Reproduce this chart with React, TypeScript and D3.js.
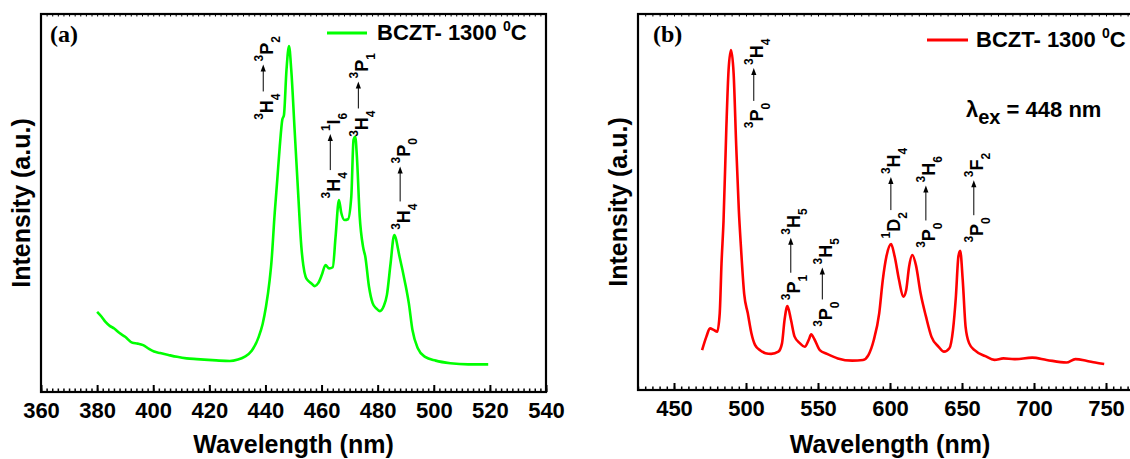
import { useEffect, useRef } from 'react';
import * as d3 from 'd3';

// ---- panel (a) : emission, green ----
const wlA = [380, 381.6, 382.9, 384.5, 386.1, 388, 390, 392.6, 394.5, 396.4, 398.5, 400.3, 402.5, 405.4, 408.5, 411.9, 415.5, 419.6, 423.5, 427.3, 430.2, 432.5, 435.1, 437.6, 439, 440.2, 441.5, 442.1, 443.3, 444.2, 445.1, 446, 446.6, 447.5, 448.4, 449.2, 450.4, 451.6, 452.8, 453.5, 454.3, 455, 456.3, 457.6, 458.8, 460.1, 461.4, 462.7, 464, 465, 466.2, 467, 468.2, 469.4, 470.6, 471.4, 472, 472.6, 473.6, 474.8, 475.6, 476.9, 478.2, 479.5, 480.8, 482.1, 483.3, 484.6, 485.9, 487.8, 489.8, 491.1, 492.4, 494.3, 496.9, 500.7, 505.9, 512.3, 519.4];
const intA = [21.2, 19.9, 18.6, 17.5, 16.8, 15.6, 14.6, 13.0, 12.8, 12.4, 11.4, 10.7, 10.3, 9.8, 9.3, 8.9, 8.7, 8.5, 8.3, 8.2, 8.6, 9.3, 10.9, 14.6, 18, 22.6, 29.6, 34.0, 47.3, 56, 64.9, 72, 73.3, 85.2, 91.5, 85.2, 69.3, 53.4, 38.4, 33.5, 30.5, 29.6, 28.8, 28.0, 28.8, 31.0, 33.6, 32.7, 33.0, 41.1, 50.8, 47.5, 45.5, 45.7, 51.7, 66.7, 67.5, 62.2, 46.4, 38.4, 35.8, 27.9, 23.5, 22.1, 21.4, 22.6, 25.7, 34.0, 41.5, 35.8, 28.8, 23.5, 16.4, 11.6, 9.3, 8.3, 7.6, 7.3, 7.3];
const ticksA = [360, 380, 400, 420, 440, 460, 480, 500, 520, 540];
const transA = [
  { wl: 442.6, v: 72, lower: '3H4', upper: '3P2', len: 27 },
  { wl: 466.5, v: 51.2, lower: '3H4', upper: '1I6', len: 36 },
  { wl: 476.5, v: 67.5, lower: '3H4', upper: '3P1', len: 27 },
  { wl: 491.4, v: 42.9, lower: '3H4', upper: '3P0', len: 35 },
];

// ---- panel (b) : emission, red ----
const wlB = [469.5, 472.5, 475, 477.5, 480, 481.75, 483, 484.4, 486.3, 487.9, 489.6, 491.4, 493.2, 495, 496.5, 498.75, 501.25, 503.75, 506.25, 510, 513.5, 517.5, 522.5, 525, 526.75, 528.75, 531.25, 533.75, 537.5, 540.75, 543.75, 545.25, 547.5, 551.25, 556.25, 563.75, 573.75, 581.25, 585, 588.75, 592.5, 595, 597.5, 600.75, 603.25, 606.25, 609.25, 611.25, 613.25, 615.5, 618, 621.25, 625, 628.75, 633.75, 637.5, 641.25, 643.75, 645.75, 647.5, 648.75, 650.5, 652.5, 655, 658.75, 666.25, 672.5, 678.75, 686.25, 698.75, 708.75, 722.5, 728.75, 736.25, 742.5, 748.75];
const intB = [10.6, 14.2, 16.4, 16.0, 15.5, 20.4, 33.7, 45, 69.1, 85.1, 90.4, 84.2, 65, 48, 38, 25.5, 20.4, 15.1, 12.0, 10.5, 9.8, 9.6, 10.2, 12.4, 18.6, 22.3, 18.6, 14.2, 12.4, 11.5, 13.5, 14.8, 13.5, 10.6, 9.6, 8.4, 7.8, 8.0, 9.3, 13.3, 20.4, 29.3, 35.5, 38.8, 35.5, 29.3, 24.8, 26.6, 32.8, 35.9, 33.2, 25.7, 19.5, 14.2, 11.5, 10.2, 11.1, 16.0, 24.8, 35.5, 37.0, 29.3, 16.8, 12.4, 10.6, 9.0, 8.0, 8.4, 8.2, 8.6, 8.0, 7.3, 8.2, 7.8, 7.3, 6.9];
const ticksB = [450, 500, 550, 600, 650, 700, 750];
const transB = [
  { wl: 512, v: 69.6, lower: '3P0', upper: '3H4', len: 33 },
  { wl: 537.7, v: 23.9, lower: '3P1', upper: '3H5', len: 35 },
  { wl: 559.6, v: 16.8, lower: '3P0', upper: '3H5', len: 32 },
  { wl: 607.2, v: 40.3, lower: '1D2', upper: '3H4', len: 33 },
  { wl: 631.5, v: 37.8, lower: '3P0', upper: '3H6', len: 35 },
  { wl: 664.8, v: 39.2, lower: '3P0', upper: '3F2', len: 35 },
];

const SANS = "'Liberation Sans', Arial, sans-serif";
const SERIF = "'Liberation Serif', 'Times New Roman', serif";

const panels = [
  {
    tag: '(a)', tagDx: 9, left: 41, top: 14, bottom: 392, width: 505,
    domain: [360, 540], ticks: ticksA, minor: 2, wl: wlA, val: intA, trans: transA,
    color: '#00ff00', legend: { x1: 327, x2: 367, y: 33, tx: 377, ty: 40 },
  },
  {
    tag: '(b)', tagDx: 15, left: 638, top: 14, bottom: 390, width: 504,
    domain: [425, 775], ticks: ticksB, minor: 5, wl: wlB, val: intB, trans: transB,
    color: '#ff0000', legend: { x1: 927, x2: 968, y: 40, tx: 976, ty: 47 },
  },
];

const App = () => {
  const svgRef = useRef(null);

  useEffect(() => {
    const svg = d3.select(svgRef.current);
    svg.selectAll('*').remove();

    panels.forEach((p) => {
      const x = d3.scaleLinear().domain(p.domain).range([p.left, p.left + p.width]);
      const y = d3.scaleLinear().domain([0, 100]).range([p.bottom, p.top]);
      const g = svg.append('g');

      // minor ticks bottom + top
      const minorVals = d3.range(p.domain[0], p.domain[1] + 0.001, p.minor);
      g.append('g')
        .attr('transform', `translate(0,${p.bottom})`)
        .call(d3.axisBottom(x).tickValues(minorVals).tickSize(-3.5).tickFormat(() => ''))
        .call((a) => a.select('.domain').remove())
        .selectAll('line').attr('stroke-width', 1.5);
      g.append('g')
        .attr('transform', `translate(0,${p.top})`)
        .call(d3.axisTop(x).tickValues(minorVals).tickSize(-2.5).tickFormat(() => ''))
        .call((a) => a.select('.domain').remove())
        .selectAll('line').attr('stroke-width', 1);

      // major ticks + labels
      const ax = g.append('g')
        .attr('transform', `translate(0,${p.bottom})`)
        .call(d3.axisBottom(x).tickValues(p.ticks).tickSize(-7).tickPadding(10).tickFormat(d3.format('d')));
      ax.select('.domain').remove();
      ax.selectAll('line').attr('stroke-width', 2);
      ax.selectAll('text')
        .attr('font-family', SANS).attr('font-weight', 'bold').attr('font-size', 22).attr('fill', '#000');

      // frame
      g.append('rect')
        .attr('x', p.left).attr('y', p.top)
        .attr('width', p.width).attr('height', p.bottom - p.top)
        .attr('fill', 'none').attr('stroke', '#000').attr('stroke-width', 2.2);

      // curve
      const pts = p.wl.map((w, i) => [w, p.val[i]]);
      g.append('path')
        .datum(pts)
        .attr('fill', 'none')
        .attr('stroke', p.color)
        .attr('stroke-width', 2.6)
        .attr('stroke-linejoin', 'round')
        .attr('d', d3.line().x((d) => x(d[0])).y((d) => y(d[1])).curve(d3.curveMonotoneX));

      // axis titles
      g.append('text')
        .attr('x', p.left + p.width / 2).attr('y', 453)
        .attr('text-anchor', 'middle')
        .attr('font-family', SANS).attr('font-weight', 'bold').attr('font-size', 25)
        .text('Wavelength (nm)');
      g.append('text')
        .attr('transform', `translate(${p.left - 11},${(p.top + p.bottom) / 2}) rotate(-90)`)
        .attr('text-anchor', 'middle')
        .attr('font-family', SANS).attr('font-weight', 'bold').attr('font-size', 25)
        .text('Intensity (a.u.)');

      // panel tag
      g.append('text')
        .attr('x', p.left + p.tagDx).attr('y', 42)
        .attr('font-family', SERIF).attr('font-weight', 'bold').attr('font-size', 24)
        .text(p.tag);

      // legend
      const L = p.legend;
      g.append('line')
        .attr('x1', L.x1).attr('x2', L.x2).attr('y1', L.y).attr('y2', L.y)
        .attr('stroke', p.color).attr('stroke-width', 3);
      const lt = g.append('text')
        .attr('x', L.tx).attr('y', L.ty)
        .attr('font-family', SANS).attr('font-weight', 'bold').attr('font-size', 22);
      lt.append('tspan').text('BCZT- 1300 ');
      lt.append('tspan').attr('font-size', 14).attr('dy', -9).text('0');
      lt.append('tspan').attr('dy', 9).text('C');

      // transition labels
      p.trans.forEach((t) => {
        const grp = g.append('g')
          .attr('transform', `translate(${x(t.wl)},${y(t.v)}) rotate(-90)`);
        const term = (s, sx) => {
          const txt = grp.append('text')
            .attr('x', sx).attr('y', 0)
            .attr('font-family', SANS).attr('font-weight', 'bold').attr('font-size', 18);
          txt.append('tspan').attr('font-size', 12).attr('dy', -10).text(s[0]);
          txt.append('tspan').attr('dy', 10).text(s[1]);
          txt.append('tspan').attr('font-size', 12).attr('dy', 7).text(s.slice(2));
          return txt.node().getComputedTextLength();
        };
        const w1 = term(t.lower, 0);
        const a0 = w1 + 2;
        const a1 = a0 + t.len;
        grp.append('line')
          .attr('x1', a0).attr('x2', a1 - 5).attr('y1', -9.5).attr('y2', -9.5)
          .attr('stroke', '#000').attr('stroke-width', 1);
        grp.append('path')
          .attr('d', `M${a1},-9.5 l-7,-2.6 l0,5.2 z`)
          .attr('fill', '#000');
        term(t.upper, a1 + 3);
      });
    });

    // excitation note (panel b)
    const ex = svg.append('text')
      .attr('x', 966).attr('y', 117)
      .attr('font-family', SANS).attr('font-weight', 'bold').attr('font-size', 22);
    ex.append('tspan').text('λ');
    ex.append('tspan').attr('font-size', 20).attr('dy', 7).text('ex');
    ex.append('tspan').attr('dy', -7).text(' = 448 nm');
  }, []);

  return (
    <svg
      ref={svgRef}
      width={1130}
      height={459}
      style={{ position: 'absolute', left: 0, top: 0, background: '#fff' }}
    />
  );
};

export default App;
